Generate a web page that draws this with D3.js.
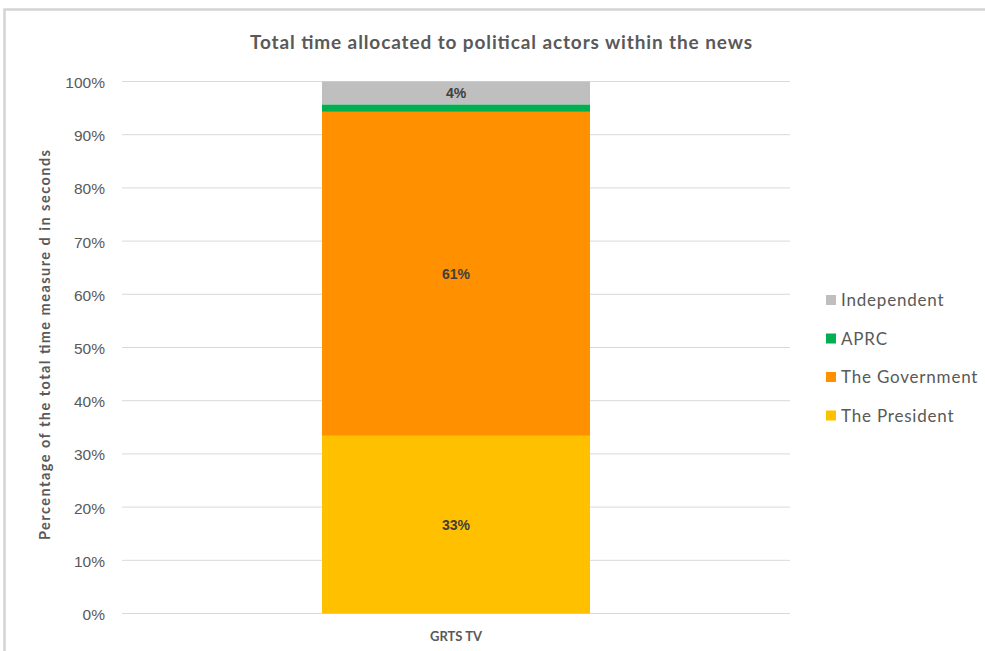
<!DOCTYPE html>
<html><head><meta charset="utf-8">
<script src="https://cdn.jsdelivr.net/npm/d3@7"></script>
<style>body{margin:0;background:#fff}svg{display:block}</style>
</head><body>
<svg id="c" width="985" height="651"></svg>
<script>
const categories = ["GRTS TV"];
const seriesNames = ["The President", "The Government", "APRC", "Independent"];
const seriesColors = ["#FFC000", "#FF9100", "#00B050", "#BFBFBF"];
const presidentValues = [33.4];
const governmentValues = [60.9];
const aprcValues = [1.4];
const independentValues = [4.3];
const dataLabels = [["33%"], ["61%"], [""], ["4%"]];
const yTicks = [0,10,20,30,40,50,60,70,80,90,100];

const svg = d3.select("#c");
// outer frame
svg.append("rect").attr("x",4.5).attr("y",9.5).attr("width",1000).attr("height",700)
  .attr("fill","none").attr("stroke","#d4d4d4").attr("stroke-width",2.5);

const y = d3.scaleLinear().domain([0,100]).range([613.5,81.5]);
const x = d3.scaleBand().domain(categories).range([122,790]).paddingInner(0).paddingOuter(0.3);

// gridlines
svg.append("g").selectAll("line").data(yTicks).join("line")
  .attr("x1",122).attr("x2",790).attr("y1",d=>y(d)).attr("y2",d=>y(d))
  .attr("stroke","#d9d9d9").attr("stroke-width",1);

// y axis labels
const yAxis = d3.axisLeft(y).tickValues(yTicks).tickFormat(d=>d+"%").tickSize(0).tickPadding(0);
const ga = svg.append("g").attr("transform","translate(105,1)").call(yAxis);
ga.select(".domain").remove();
ga.selectAll("text").attr("font-family","Liberation Sans, Arial, sans-serif").attr("font-size",15.5).attr("fill","#595959");

// stacked data
const rows = categories.map((c,i)=>({cat:c, "The President":presidentValues[i], "The Government":governmentValues[i], "APRC":aprcValues[i], "Independent":independentValues[i]}));
const stack = d3.stack().keys(seriesNames)(rows);
const bw = 268;
stack.forEach((s,si)=>{
  svg.append("g").selectAll("rect").data(s).join("rect")
    .attr("x",d=>x(d.data.cat)+x.bandwidth()/2-bw/2).attr("width",bw)
    .attr("y",d=>y(d[1])).attr("height",d=>y(d[0])-y(d[1]))
    .attr("fill",seriesColors[si]);
  svg.append("g").selectAll("text").data(s).join("text")
    .attr("x",d=>x(d.data.cat)+x.bandwidth()/2)
    .attr("y",d=>(y(d[0])+y(d[1]))/2+5)
    .attr("text-anchor","middle")
    .attr("font-family","Liberation Sans, Arial, sans-serif").attr("font-weight","bold")
    .attr("font-size",14).attr("fill","#404040")
    .text((d,i)=>dataLabels[si][i]);
});

// x labels
svg.append("g").selectAll("text").data(categories).join("text")
  .attr("x",d=>x(d)+x.bandwidth()/2).attr("y",641).attr("text-anchor","middle")
  .attr("font-family","Lato, sans-serif").attr("font-weight","bold").attr("font-size",13)
  .attr("fill","#595959").text(d=>d);

// title
svg.append("text").attr("x",501).attr("y",49).attr("text-anchor","middle")
  .attr("font-family","Lato, sans-serif").attr("font-weight","bold").attr("font-size",19)
  .attr("fill","#595959").attr("textLength",502).attr("lengthAdjust","spacing")
  .text("Total time allocated to political actors within the news");

// y axis title
svg.append("text").attr("transform","translate(50,345) rotate(-90)").attr("text-anchor","middle")
  .attr("font-family","Lato, sans-serif").attr("font-weight","bold").attr("font-size",14.5)
  .attr("fill","#595959").attr("textLength",390).attr("lengthAdjust","spacing")
  .text("Percentage of the total time measure d in seconds");

// legend
const legendOrder = [3,2,1,0];
const lg = svg.append("g").selectAll("g").data(legendOrder).join("g")
  .attr("transform",(d,i)=>`translate(826,${300+i*38.5})`);
lg.append("rect").attr("x",0).attr("y",-5).attr("width",10).attr("height",10).attr("fill",d=>seriesColors[d]);
lg.append("text").attr("x",15).attr("y",6).attr("font-family","Lato, sans-serif").attr("font-size",17)
  .attr("fill","#595959").attr("letter-spacing",0.8).text(d=>seriesNames[d]);
</script>
</body></html>
